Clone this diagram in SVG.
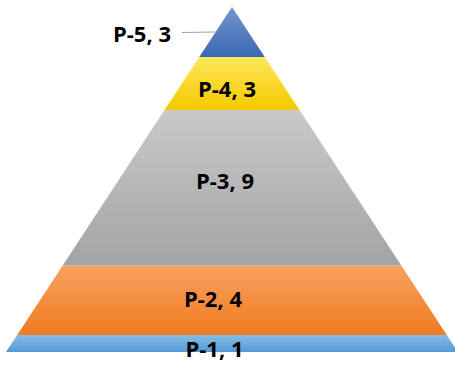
<svg xmlns="http://www.w3.org/2000/svg" width="455" height="365" viewBox="0 0 455 365">
  <defs>
    <linearGradient id="gBlueTop" x1="0" y1="0" x2="0" y2="1">
      <stop offset="0" stop-color="#7395cc"/>
      <stop offset="1" stop-color="#3a68b4"/>
    </linearGradient>
    <linearGradient id="gYellow" x1="0" y1="0" x2="0" y2="1">
      <stop offset="0" stop-color="#fde85a"/>
      <stop offset="1" stop-color="#f6c900"/>
    </linearGradient>
    <linearGradient id="gGray" x1="0" y1="0" x2="0" y2="1">
      <stop offset="0" stop-color="#c9c9c9"/>
      <stop offset="1" stop-color="#a4a4a4"/>
    </linearGradient>
    <linearGradient id="gOrange" x1="0" y1="0" x2="0" y2="1">
      <stop offset="0" stop-color="#f7a25f"/>
      <stop offset="1" stop-color="#f17a21"/>
    </linearGradient>
    <linearGradient id="gBlueBase" x1="0" y1="0" x2="0" y2="1">
      <stop offset="0" stop-color="#86bde8"/>
      <stop offset="1" stop-color="#5598d6"/>
    </linearGradient>
  </defs>
  <style>
    .lbl { font-family: "Open Sans", "Liberation Sans", sans-serif; font-weight: bold; font-size: 22px; fill: #000; }
    .leader { stroke: #a0a0a0; stroke-width: 1.2; fill: none; }
  </style>
  <g id="level-1">
    <polygon points="17.2,335 446.8,335 458,352 6,352" fill="url(#gBlueBase)"/>
  </g>
  <g id="level-2">
    <polygon points="62.7,265.5 401.3,265.5 446.8,335 17.2,335" fill="url(#gOrange)"/>
    <text class="lbl" x="213" y="307" text-anchor="middle">P-2, 4</text>
  </g>
  <g id="level-3">
    <polygon points="164.5,110 299.5,110 401.3,265.5 62.7,265.5" fill="url(#gGray)"/>
    <text class="lbl" x="225" y="189" text-anchor="middle">P-3, 9</text>
  </g>
  <g id="level-4">
    <polygon points="199.25,57 264.75,57 299.5,110 164.5,110" fill="url(#gYellow)"/>
    <text class="lbl" x="227" y="97" text-anchor="middle">P-4, 3</text>
  </g>
  <g id="level-5">
    <polygon points="232,7 264.75,57 199.25,57" fill="url(#gBlueTop)"/>
  </g>
  <g id="level-1-label">
    <text class="lbl" x="214.5" y="357" text-anchor="middle">P-1, 1</text>
  </g>
  <g id="connectors">
    <line class="leader" x1="182" y1="32.5" x2="215" y2="32"/>
  </g>
  <g id="level-5-label">
    <text class="lbl" x="142" y="42" text-anchor="middle">P-5, 3</text>
  </g>
</svg>
